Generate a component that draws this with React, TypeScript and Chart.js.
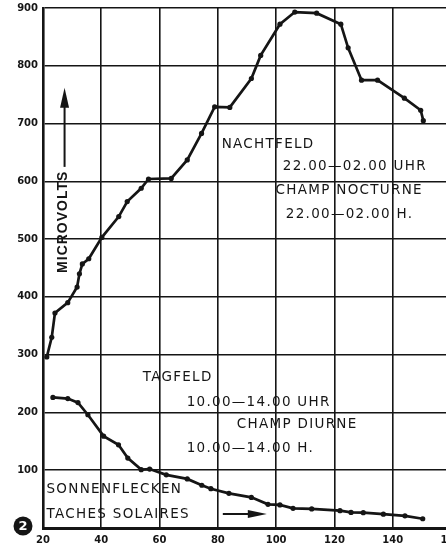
import React, { useEffect, useRef } from "react";
import { Chart, registerables } from "chart.js";

Chart.register(...registerables);

// Nachtfeld (night field), microvolts vs sunspot number
const nightX = [21.3, 23.0, 24.1, 28.5, 31.7, 32.5, 33.5, 35.7, 40.2, 46.0, 48.9, 53.7, 56.2, 64.0, 69.5, 74.4, 78.9, 84.1, 91.5, 94.7, 101.3, 106.4, 113.9, 122.2, 124.7, 129.3, 134.8, 144.0, 149.6, 150.5];
const nightY = [296, 330, 372, 390, 417, 440, 457, 466, 503, 539, 565, 588, 604, 605, 637, 683, 729, 728, 778, 818, 872, 893, 891, 872, 831, 775, 775, 744, 723, 705];

// Tagfeld (day field)
const dayX = [23.4, 28.5, 32.0, 35.4, 40.8, 45.9, 49.1, 53.7, 56.6, 62.3, 69.5, 74.5, 77.6, 83.8, 91.5, 97.2, 101.3, 105.8, 112.2, 121.9, 125.7, 129.9, 136.8, 144.2, 150.3];
const dayY = [226, 224, 217, 196, 159, 144, 121, 101, 102, 92, 85, 74, 68, 60, 53, 41, 40, 34, 33, 30, 27, 26.5, 24, 21, 16];

const xTicks = [20, 40, 60, 80, 100, 120, 140, 160];
const yTicks = [0, 100, 200, 300, 400, 500, 600, 700, 800, 900];

const noteTexts = [
  "NACHTFELD",
  "22.00\u201402.00 UHR",
  "CHAMP NOCTURNE",
  "22.00\u201402.00 H.",
  "TAGFELD",
  "10.00\u201414.00 UHR",
  "CHAMP DIURNE",
  "10.00\u201414.00 H.",
  "SONNENFLECKEN",
  "TACHES SOLAIRES",
];
const noteX = [81.3, 102.3, 99.8, 103.3, 54.2, 69.3, 86.5, 69.3, 21.2, 21.2];
const noteY = [663, 625, 585, 543, 260, 218, 180, 137, 66, 24];

const axisLabel = "MICROVOLTS";

const INK = "#151515";

function toPoints(xs: number[], ys: number[]) {
  return xs.map((x, i) => ({ x, y: ys[i] }));
}

const notesPlugin = {
  id: "notes",
  afterDraw(chart: any) {
    const { ctx, scales, chartArea } = chart;
    const sx = scales.x;
    const sy = scales.y;
    ctx.save();
    ctx.fillStyle = INK;
    ctx.strokeStyle = INK;
    // annotations
    ctx.font = "13.5px 'DejaVu Sans'";
    (ctx as any).letterSpacing = "1.3px";
    ctx.textAlign = "left";
    ctx.textBaseline = "middle";
    noteTexts.forEach((t, i) => {
      ctx.fillText(t, sx.getPixelForValue(noteX[i]), sy.getPixelForValue(noteY[i]));
    });

    // MICROVOLTS vertical label with arrow
    const ax = sx.getPixelForValue(27.4);
    ctx.save();
    ctx.translate(ax - 1, sy.getPixelForValue(530));
    ctx.rotate(-Math.PI / 2);
    ctx.font = "bold 14px 'Liberation Sans'";
    (ctx as any).letterSpacing = "1px";
    ctx.textAlign = "center";
    ctx.textBaseline = "middle";
    ctx.fillText(axisLabel, 0, 0);
    ctx.restore();

    const yBase = sy.getPixelForValue(625);
    const yTip = sy.getPixelForValue(762);
    ctx.lineWidth = 2;
    ctx.beginPath();
    ctx.moveTo(ax, yBase);
    ctx.lineTo(ax, yTip + 15);
    ctx.stroke();
    ctx.beginPath();
    ctx.moveTo(ax, yTip);
    ctx.lineTo(ax - 4.5, yTip + 20);
    ctx.lineTo(ax + 4.5, yTip + 20);
    ctx.closePath();
    ctx.fill();

    // horizontal arrow
    const ay = sy.getPixelForValue(24.2);
    const x0 = sx.getPixelForValue(81.7);
    const x1 = sx.getPixelForValue(96.8);
    ctx.beginPath();
    ctx.moveTo(x0, ay);
    ctx.lineTo(x1 - 15, ay);
    ctx.stroke();
    ctx.beginPath();
    ctx.moveTo(x1, ay);
    ctx.lineTo(x1 - 19, ay - 4);
    ctx.lineTo(x1 - 19, ay + 4);
    ctx.closePath();
    ctx.fill();

    // figure badge
    const bx = chartArea.left - 20;
    const by = chartArea.bottom - 2;
    ctx.beginPath();
    ctx.arc(bx, by, 9.5, 0, Math.PI * 2);
    ctx.fill();
    ctx.fillStyle = "#ffffff";
    ctx.font = "bold 13px 'DejaVu Sans'";
    (ctx as any).letterSpacing = "0px";
    ctx.textAlign = "center";
    ctx.textBaseline = "middle";
    ctx.fillText("2", bx, by + 1);
    ctx.restore();
  },
};

export default function App() {
  const ref = useRef<HTMLCanvasElement | null>(null);

  useEffect(() => {
    if (!ref.current) return;
    const tickFont = { family: "'DejaVu Sans'", size: 10, weight: "bold" as const };
    const chart = new Chart(ref.current, {
      type: "line",
      data: {
        datasets: [
          {
            label: "Nachtfeld",
            data: toPoints(nightX, nightY),
            borderColor: INK,
            backgroundColor: INK,
            borderWidth: 2.7,
            pointRadius: 2.6,
            pointBorderWidth: 0,
            tension: 0,
          },
          {
            label: "Tagfeld",
            data: toPoints(dayX, dayY),
            borderColor: INK,
            backgroundColor: INK,
            borderWidth: 2.7,
            pointRadius: 2.6,
            pointBorderWidth: 0,
            tension: 0,
          },
        ],
      },
      options: {
        animation: false,
        responsive: false,
        maintainAspectRatio: false,
        layout: { padding: { top: 8, right: 9, left: 0, bottom: 0 } },
        plugins: { legend: { display: false }, tooltip: { enabled: false } },
        scales: {
          x: {
            type: "linear",
            min: 20,
            max: 160,
            afterBuildTicks: (s: any) => {
              s.ticks = xTicks.map((v) => ({ value: v }));
            },
            grid: { color: INK, lineWidth: 1.6, drawTicks: false },
            border: { color: INK, width: 3 },
            ticks: {
              color: INK,
              font: tickFont,
              padding: 6,
              maxRotation: 0,
              autoSkip: false,
              callback: (v: any) => String(v),
            },
            afterFit: (s: any) => {
              s.height = 18;
              s.paddingLeft = 0;
              s.paddingRight = 0;
            },
          },
          y: {
            type: "linear",
            min: 0,
            max: 900,
            afterBuildTicks: (s: any) => {
              s.ticks = yTicks.map((v) => ({ value: v }));
            },
            grid: { color: INK, lineWidth: 1.6, drawTicks: false },
            border: { color: INK, width: 2.6 },
            ticks: {
              color: INK,
              font: tickFont,
              padding: 5,
              autoSkip: false,
              callback: (v: any) => (v === 0 ? "" : String(v)),
            },
            afterFit: (s: any) => {
              s.width = 43;
              s.paddingTop = 0;
              s.paddingBottom = 0;
            },
          },
        },
      },
      plugins: [notesPlugin],
    });
    return () => chart.destroy();
  }, []);

  return (
    <div
      style={{
        position: "fixed",
        left: 0,
        top: 0,
        width: 446,
        height: 546,
        overflow: "hidden",
        background: "#ffffff",
      }}
    >
      <canvas ref={ref} width={460} height={546} style={{ display: "block" }} />
    </div>
  );
}
